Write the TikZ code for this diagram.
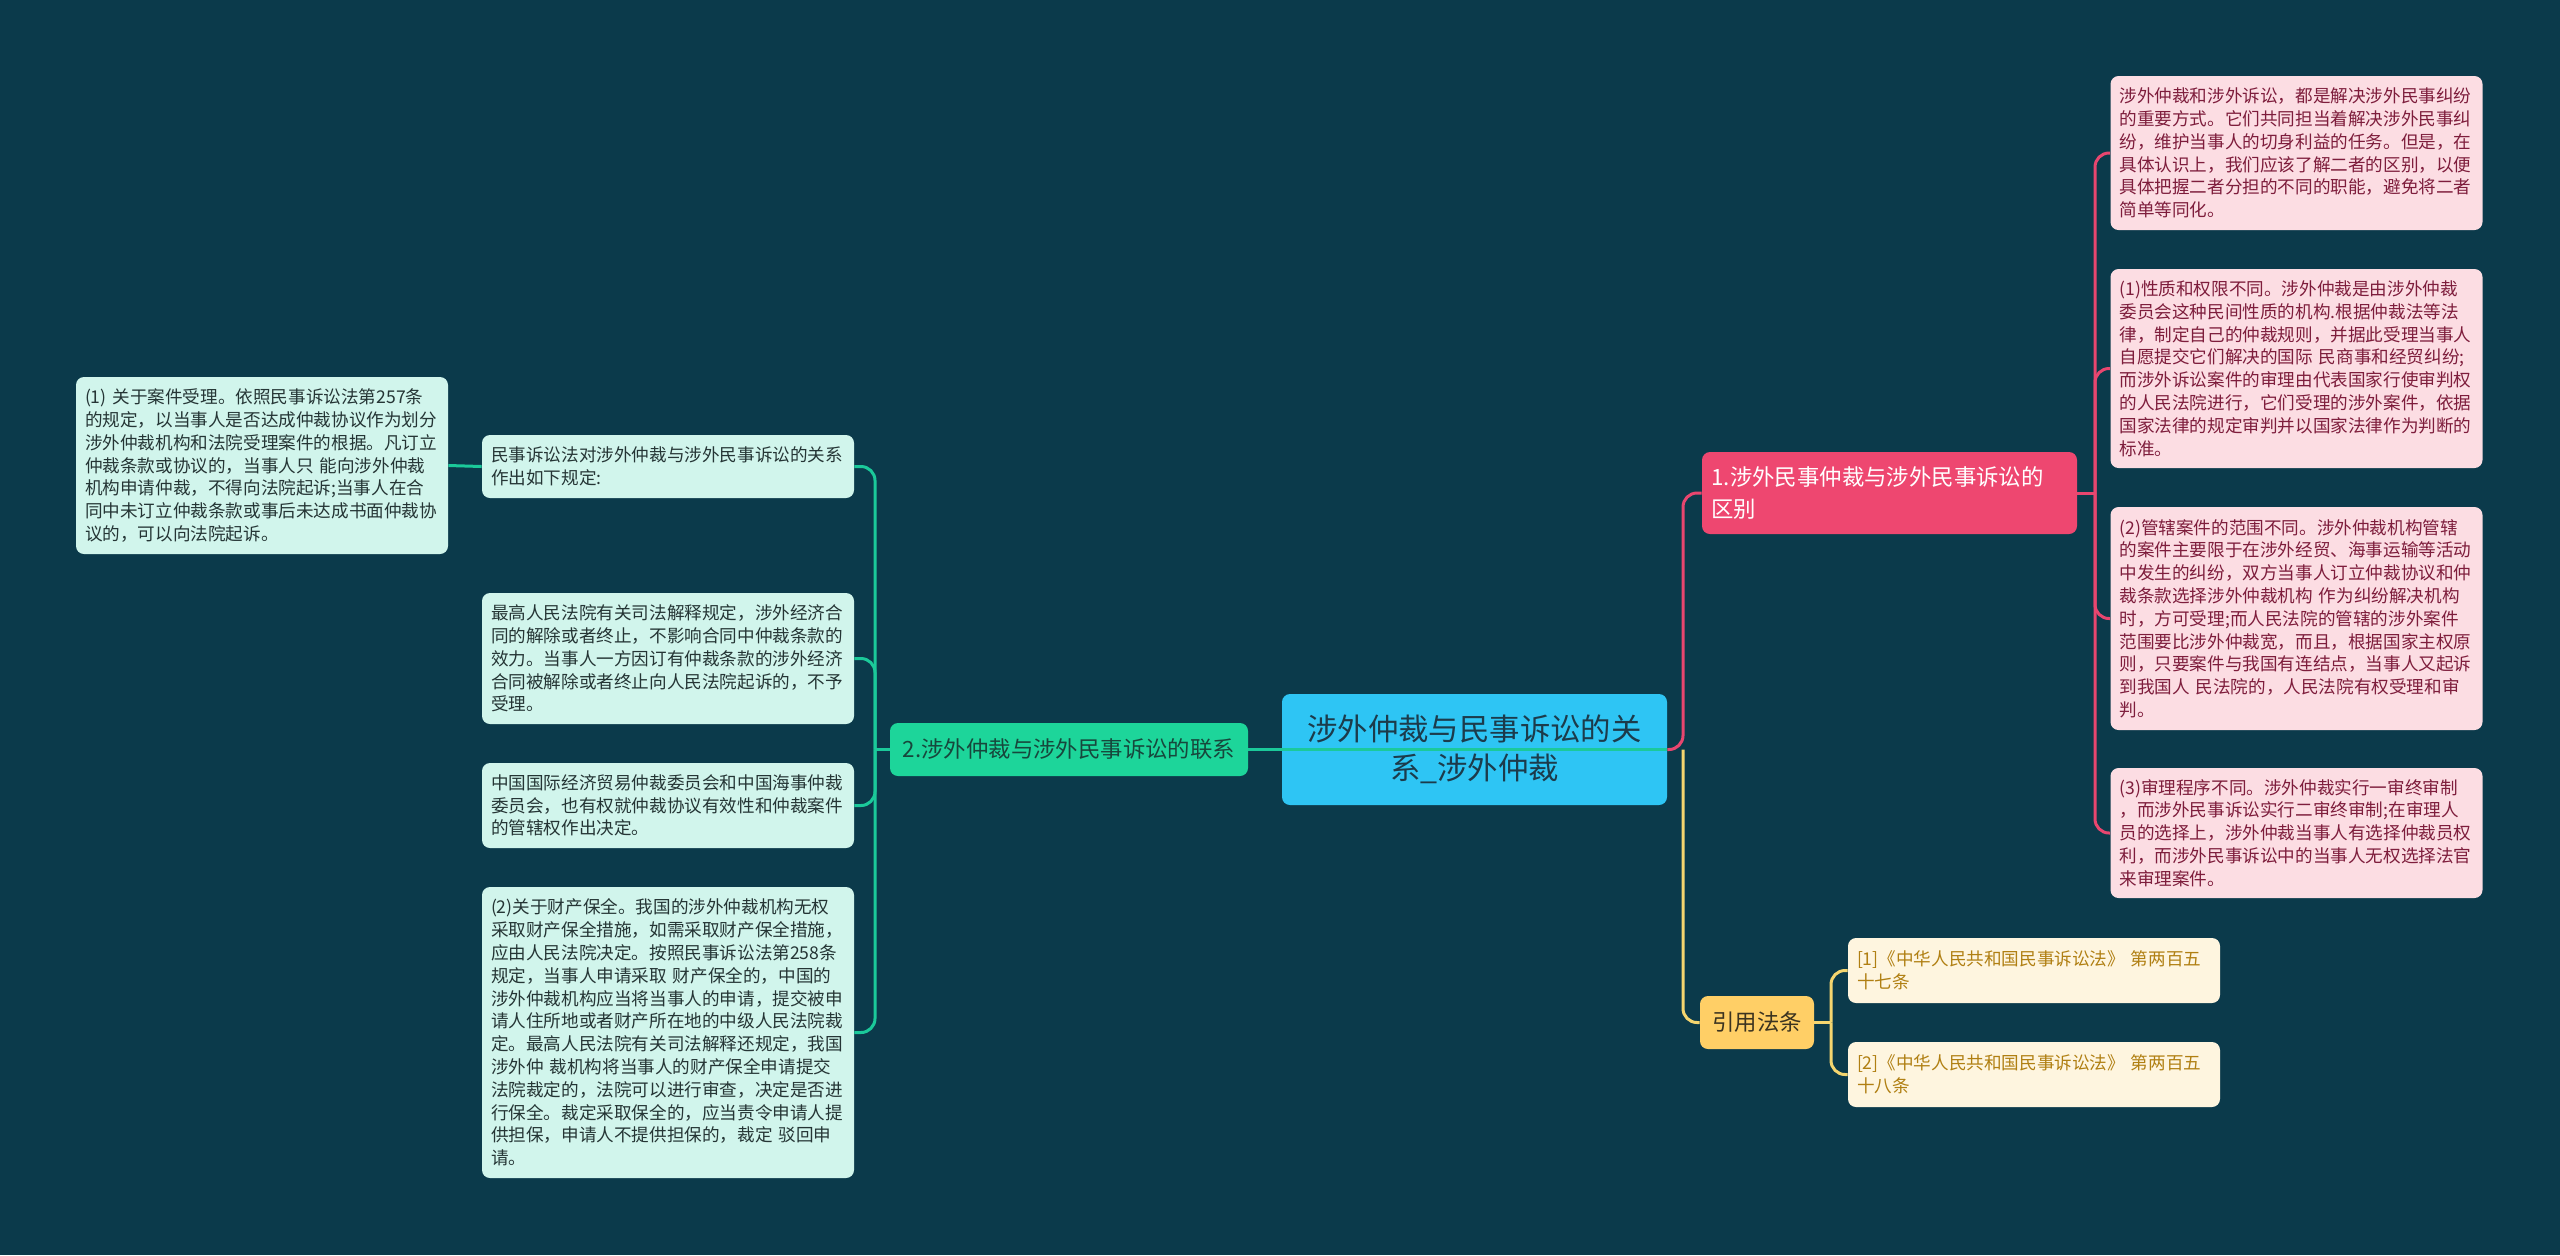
\documentclass[tikz,border=0pt]{standalone}
\usepackage{fontspec}
\setmainfont{Noto Sans CJK SC}
\usetikzlibrary{positioning}
\definecolor{bgcol}{HTML}{0B3A4B}
\definecolor{rootfill}{HTML}{2EC5F4}
\definecolor{rootink}{HTML}{1C3B4B}
\definecolor{tealfill}{HTML}{1DD59A}
\definecolor{tealink}{HTML}{17473C}
\definecolor{tealleaf}{HTML}{D1F5EC}
\definecolor{tealline}{HTML}{1BC99A}
\definecolor{pinkfill}{HTML}{EE4770}
\definecolor{pinkleaf}{HTML}{FCDDE3}
\definecolor{pinkink}{HTML}{7E1D3C}
\definecolor{pinkline}{HTML}{E8466F}
\definecolor{goldfill}{HTML}{FFCF66}
\definecolor{goldink}{HTML}{3B3320}
\definecolor{goldleaf}{HTML}{FEF5DF}
\definecolor{goldtext}{HTML}{B07F12}
\definecolor{goldline}{HTML}{F5D56F}
\definecolor{leafink}{HTML}{253535}

\begin{document}
\begin{tikzpicture}[x=0.5pt, y=-0.5pt,
    box/.style={rounded corners=4pt, inner ysep=0pt},
    root/.style={box, fill=rootfill, text=rootink, minimum width=192.5pt, minimum height=55.5pt,
      align=center, font=\fontsize{15.2}{19.5}\selectfont},
    topic/.style={box, minimum height=26.5pt, font=\fontsize{11.2}{16.3}\selectfont},
    leaf/.style={box, text width=177pt, inner xsep=4.5pt, align=left, font=\fontsize{8.8}{11.4}\selectfont},
    tealbox/.style={leaf, fill=tealleaf, text=leafink},
    pinkbox/.style={leaf, fill=pinkleaf, text=pinkink},
    goldbox/.style={leaf, fill=goldleaf, text=goldtext},
    link/.style={line width=1.5pt, rounded corners=7pt}]
    \fill[bgcol] (0,0) rectangle (2560,1255);
    \useasboundingbox (0,0) rectangle (2560,1255);

    % centre and main topics
    \node[root] (root) at (1474.5,749.5) {涉外仲裁与民事诉讼的关\\系\_涉外仲裁};
    \node[topic, fill=tealfill, text=tealink, minimum width=179pt] (relate) at (1069,749.5)
      {2.涉外仲裁与涉外民事诉讼的联系};
    \node[topic, fill=pinkfill, text=white, minimum height=41pt, text width=178pt, inner xsep=4.75pt, align=left]
      (differ) at (1889.5,493) {1.涉外民事仲裁与涉外民事诉讼的\\区别};
    \node[topic, fill=goldfill, text=goldink, minimum width=57pt] (cite) at (1757,1022.5) {引用法条};

    % left side
    \node[tealbox, minimum height=88.5pt] (accept) at (262,465.5)
      {(1) 关于案件受理。依照民事诉讼法第257条\\的规定，以当事人是否达成仲裁协议作为划分\\涉外仲裁机构和法院受理案件的根据。凡订立\\仲裁条款或协议的，当事人只 能向涉外仲裁\\机构申请仲裁，不得向法院起诉;当事人在合\\同中未订立仲裁条款或事后未达成书面仲裁协\\议的，可以向法院起诉。};
    \node[tealbox, minimum height=31.5pt] (rule) at (668,466.5)
      {民事诉讼法对涉外仲裁与涉外民事诉讼的关系\\作出如下规定:};
    \node[tealbox, minimum height=65.5pt] (court) at (668,658.5)
      {最高人民法院有关司法解释规定，涉外经济合\\同的解除或者终止，不影响合同中仲裁条款的\\效力。当事人一方因订有仲裁条款的涉外经济\\合同被解除或者终止向人民法院起诉的，不予\\受理。};
    \node[tealbox, minimum height=42.5pt] (commis) at (668,805.5)
      {中国国际经济贸易仲裁委员会和中国海事仲裁\\委员会，也有权就仲裁协议有效性和仲裁案件\\的管辖权作出决定。};
    \node[tealbox, minimum height=145.5pt] (assets) at (668,1032.5)
      {(2)关于财产保全。我国的涉外仲裁机构无权\\采取财产保全措施，如需采取财产保全措施，\\应由人民法院决定。按照民事诉讼法第258条\\规定，当事人申请采取 财产保全的，中国的\\涉外仲裁机构应当将当事人的申请，提交被申\\请人住所地或者财产所在地的中级人民法院裁\\定。最高人民法院有关司法解释还规定，我国\\涉外仲 裁机构将当事人的财产保全申请提交\\法院裁定的，法院可以进行审查，决定是否进\\行保全。裁定采取保全的，应当责令申请人提\\供担保，申请人不提供担保的，裁定 驳回申\\请。};

    % right side
    \node[pinkbox, minimum height=77pt] (intro) at (2296.5,153)
      {涉外仲裁和涉外诉讼，都是解决涉外民事纠纷\\的重要方式。它们共同担当着解决涉外民事纠\\纷，维护当事人的切身利益的任务。但是，在\\具体认识上，我们应该了解二者的区别，以便\\具体把握二者分担的不同的职能，避免将二者\\简单等同化。};
    \node[pinkbox, minimum height=99.5pt] (nature) at (2296.5,368.5)
      {(1)性质和权限不同。涉外仲裁是由涉外仲裁\\委员会这种民间性质的机构.根据仲裁法等法\\律，制定自己的仲裁规则，并据此受理当事人\\自愿提交它们解决的国际 民商事和经贸纠纷;\\而涉外诉讼案件的审理由代表国家行使审判权\\的人民法院进行，它们受理的涉外案件，依据\\国家法律的规定审判并以国家法律作为判断的\\标准。};
    \node[pinkbox, minimum height=111.5pt] (scope) at (2296.5,618.5)
      {(2)管辖案件的范围不同。涉外仲裁机构管辖\\的案件主要限于在涉外经贸、海事运输等活动\\中发生的纠纷，双方当事人订立仲裁协议和仲\\裁条款选择涉外仲裁机构 作为纠纷解决机构\\时，方可受理;而人民法院的管辖的涉外案件\\范围要比涉外仲裁宽，而且，根据国家主权原\\则，只要案件与我国有连结点，当事人又起诉\\到我国人 民法院的，人民法院有权受理和审\\判。};
    \node[pinkbox, minimum height=65pt] (proced) at (2296.5,833)
      {(3)审理程序不同。涉外仲裁实行一审终审制\\，而涉外民事诉讼实行二审终审制;在审理人\\员的选择上，涉外仲裁当事人有选择仲裁员权\\利，而涉外民事诉讼中的当事人无权选择法官\\来审理案件。};
    \node[goldbox, minimum height=32.5pt] (law1) at (2034,970.5)
      {[1]《中华人民共和国民事诉讼法》 第两百五\\十七条};
    \node[goldbox, minimum height=32.5pt] (law2) at (2034,1074.5)
      {[2]《中华人民共和国民事诉讼法》 第两百五\\十八条};

    % connectors
    \coordinate (lfork) at (875,749.5);
    \coordinate (rfork) at (1683,749.5);
    \coordinate (pfork) at (2095,493);
    \coordinate (cfork) at (1831,1022.5);
    \draw[link, tealline] (root.east) -- (relate.east);
    \draw[link, tealline] (relate.west) -- (lfork);
    \foreach \n in {rule,court,commis,assets}
      \draw[link, tealline] (lfork) |- (\n.east);
    \draw[link, tealline] (rule.west) -- (accept.east);
    \draw[link, pinkline] (root.east) -- (rfork) |- (differ.west);
    \draw[link, goldline] (rfork) |- (cite.west);
    \draw[link, pinkline] (differ.east) -- (pfork);
    \foreach \n in {intro,nature,scope,proced}
      \draw[link, pinkline] (pfork) |- (\n.west);
    \draw[link, goldline] (cite.east) -- (cfork);
    \foreach \n in {law1,law2}
      \draw[link, goldline] (cfork) |- (\n.west);
\end{tikzpicture}
\end{document}
